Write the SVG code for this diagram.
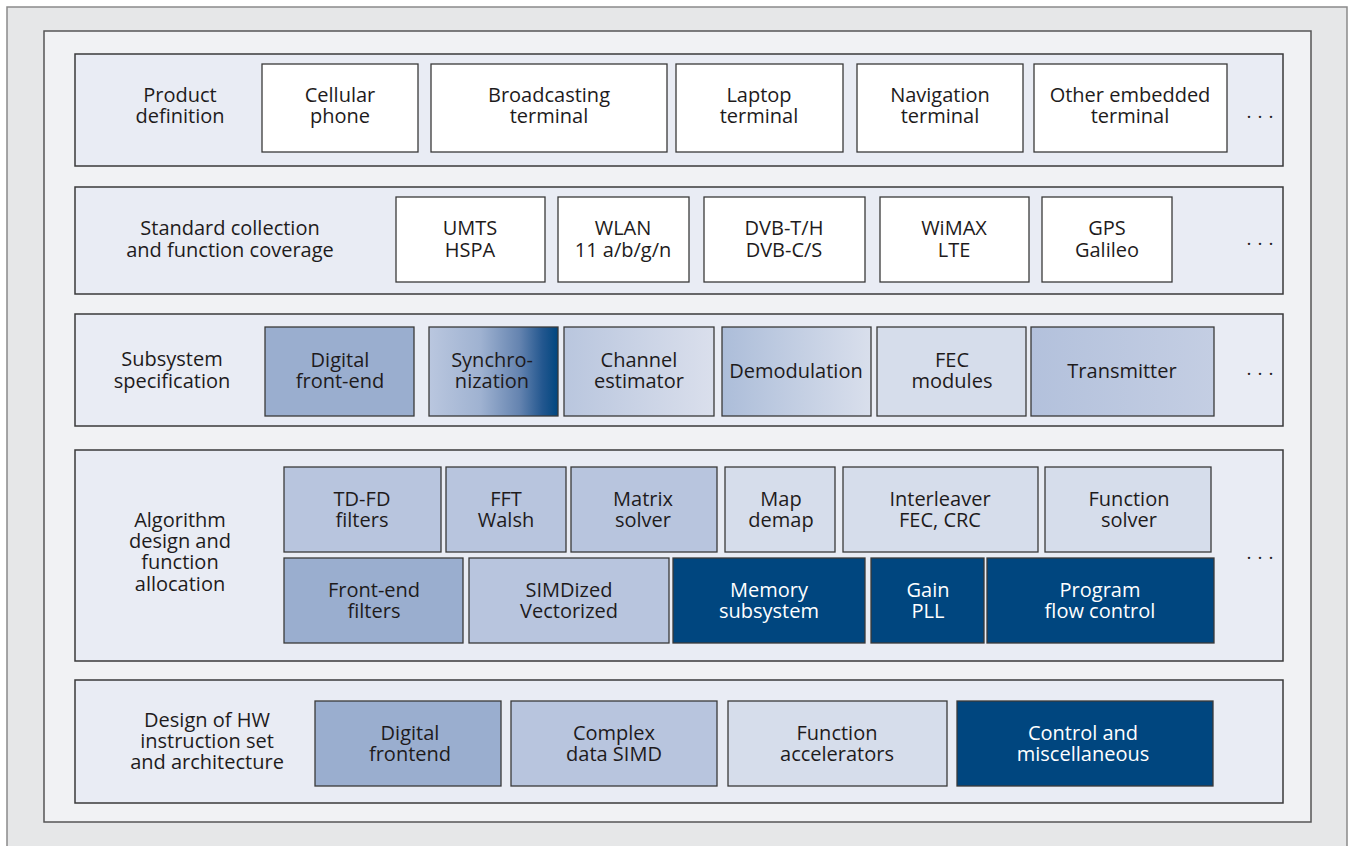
<svg xmlns="http://www.w3.org/2000/svg" width="1351" height="846" viewBox="0 0 1351 846">
  <defs>
    <linearGradient id="gSync" x1="0" y1="0" x2="1" y2="0">
      <stop offset="0" stop-color="#bac7df"/>
      <stop offset="0.4" stop-color="#9fb2d1"/>
      <stop offset="0.7" stop-color="#6584b0"/>
      <stop offset="0.88" stop-color="#23578f"/>
      <stop offset="1" stop-color="#00467f"/>
    </linearGradient>
    <linearGradient id="gChan" x1="0" y1="0" x2="1" y2="0">
      <stop offset="0" stop-color="#b9c6de"/>
      <stop offset="1" stop-color="#dadfec"/>
    </linearGradient>
    <linearGradient id="gDemod" x1="0" y1="0" x2="1" y2="0">
      <stop offset="0" stop-color="#acbdd9"/>
      <stop offset="1" stop-color="#d9dfec"/>
    </linearGradient>
    <linearGradient id="gTx" x1="0" y1="0" x2="1" y2="0">
      <stop offset="0" stop-color="#b3c1dc"/>
      <stop offset="1" stop-color="#c4cee3"/>
    </linearGradient>
  </defs>
  <style>
    .outer { fill: #e6e7e8; stroke: #8a8a8a; stroke-width: 1.5; }
    .frame { fill: #f1f2f4; stroke: #555; stroke-width: 1.5; }
    .panel { fill: #e9ecf4; stroke: #3a3a3a; stroke-width: 1.5; }
    .box { stroke: #3a3a3a; stroke-width: 1.3; }
    .white { fill: #ffffff; }
    .mid { fill: #9aaecf; }
    .light { fill: #b8c5de; }
    .pale { fill: #d6ddeb; }
    .dark { fill: #00467f; }
    text { font-family: "Open Sans", "Noto Sans", "DejaVu Sans", sans-serif; font-size: 20px; fill: #1e1b1c; text-anchor: middle; }
    text.inv { fill: #ffffff; }
    text.dots { font-size: 19px; letter-spacing: 6px; }
  </style>

  <!-- background frames -->
  <rect class="outer" x="7" y="7" width="1340" height="850"/>
  <rect class="frame" x="44" y="31" width="1267" height="791"/>

  <!-- row 1: product definition -->
  <g id="row-product">
    <rect class="panel" x="75" y="54" width="1208" height="112"/>
    <text x="180" y="102">Product</text>
    <text x="180" y="123">definition</text>
    <text class="dots" x="1263" y="118">...</text>
  </g>
  <g id="cellular-phone">
    <rect class="box white" x="262" y="64" width="156" height="88"/>
    <text x="340" y="102">Cellular</text>
    <text x="340" y="123">phone</text>
  </g>
  <g id="broadcasting-terminal">
    <rect class="box white" x="431" y="64" width="236" height="88"/>
    <text x="549" y="102">Broadcasting</text>
    <text x="549" y="123">terminal</text>
  </g>
  <g id="laptop-terminal">
    <rect class="box white" x="676" y="64" width="167" height="88"/>
    <text x="759" y="102">Laptop</text>
    <text x="759" y="123">terminal</text>
  </g>
  <g id="navigation-terminal">
    <rect class="box white" x="857" y="64" width="166" height="88"/>
    <text x="940" y="102">Navigation</text>
    <text x="940" y="123">terminal</text>
  </g>
  <g id="other-embedded-terminal">
    <rect class="box white" x="1034" y="64" width="193" height="88"/>
    <text x="1130" y="102">Other embedded</text>
    <text x="1130" y="123">terminal</text>
  </g>

  <!-- row 2: standards -->
  <g id="row-standards">
    <rect class="panel" x="75" y="187" width="1208" height="107"/>
    <text x="230" y="235">Standard collection</text>
    <text x="230" y="257">and function coverage</text>
    <text class="dots" x="1263" y="245">...</text>
  </g>
  <g id="umts-hspa">
    <rect class="box white" x="396" y="197" width="149" height="85"/>
    <text x="470" y="235">UMTS</text>
    <text x="470" y="257">HSPA</text>
  </g>
  <g id="wlan">
    <rect class="box white" x="558" y="197" width="131" height="85"/>
    <text x="623" y="235">WLAN</text>
    <text x="623" y="257">11 a/b/g/n</text>
  </g>
  <g id="dvb">
    <rect class="box white" x="704" y="197" width="161" height="85"/>
    <text x="784" y="235">DVB-T/H</text>
    <text x="784" y="257">DVB-C/S</text>
  </g>
  <g id="wimax-lte">
    <rect class="box white" x="880" y="197" width="149" height="85"/>
    <text x="954" y="235">WiMAX</text>
    <text x="954" y="257">LTE</text>
  </g>
  <g id="gps-galileo">
    <rect class="box white" x="1042" y="197" width="130" height="85"/>
    <text x="1107" y="235">GPS</text>
    <text x="1107" y="257">Galileo</text>
  </g>

  <!-- row 3: subsystems -->
  <g id="row-subsystems">
    <rect class="panel" x="75" y="314" width="1208" height="112"/>
    <text x="172" y="366">Subsystem</text>
    <text x="172" y="388">specification</text>
    <text class="dots" x="1263" y="375">...</text>
  </g>
  <g id="digital-front-end">
    <rect class="box mid" x="265" y="327" width="149" height="89"/>
    <text x="340" y="367">Digital</text>
    <text x="340" y="388">front-end</text>
  </g>
  <g id="synchronization">
    <rect class="box" fill="url(#gSync)" x="429" y="327" width="129" height="89"/>
    <text x="492" y="367">Synchro-</text>
    <text x="492" y="388">nization</text>
  </g>
  <g id="channel-estimator">
    <rect class="box" fill="url(#gChan)" x="564" y="327" width="150" height="89"/>
    <text x="639" y="367">Channel</text>
    <text x="639" y="388">estimator</text>
  </g>
  <g id="demodulation">
    <rect class="box" fill="url(#gDemod)" x="722" y="327" width="149" height="89"/>
    <text x="796" y="378">Demodulation</text>
  </g>
  <g id="fec-modules">
    <rect class="box pale" x="877" y="327" width="149" height="89"/>
    <text x="952" y="367">FEC</text>
    <text x="952" y="388">modules</text>
  </g>
  <g id="transmitter">
    <rect class="box" fill="url(#gTx)" x="1031" y="327" width="183" height="89"/>
    <text x="1122" y="378">Transmitter</text>
  </g>

  <!-- row 4: algorithms -->
  <g id="row-algorithms">
    <rect class="panel" x="75" y="450" width="1208" height="211"/>
    <text x="180" y="527">Algorithm</text>
    <text x="180" y="548">design and</text>
    <text x="180" y="569">function</text>
    <text x="180" y="591">allocation</text>
    <text class="dots" x="1263" y="559">...</text>
  </g>
  <g id="td-fd-filters">
    <rect class="box light" x="284" y="467" width="157" height="85"/>
    <text x="362" y="506">TD-FD</text>
    <text x="362" y="527">filters</text>
  </g>
  <g id="fft-walsh">
    <rect class="box light" x="446" y="467" width="120" height="85"/>
    <text x="506" y="506">FFT</text>
    <text x="506" y="527">Walsh</text>
  </g>
  <g id="matrix-solver">
    <rect class="box light" x="571" y="467" width="146" height="85"/>
    <text x="643" y="506">Matrix</text>
    <text x="643" y="527">solver</text>
  </g>
  <g id="map-demap">
    <rect class="box pale" x="725" y="467" width="110" height="85"/>
    <text x="781" y="506">Map</text>
    <text x="781" y="527">demap</text>
  </g>
  <g id="interleaver">
    <rect class="box pale" x="843" y="467" width="195" height="85"/>
    <text x="940" y="506">Interleaver</text>
    <text x="940" y="527">FEC, CRC</text>
  </g>
  <g id="function-solver">
    <rect class="box pale" x="1045" y="467" width="166" height="85"/>
    <text x="1129" y="506">Function</text>
    <text x="1129" y="527">solver</text>
  </g>
  <g id="front-end-filters">
    <rect class="box mid" x="284" y="558" width="179" height="85"/>
    <text x="374" y="597">Front-end</text>
    <text x="374" y="618">filters</text>
  </g>
  <g id="simdized">
    <rect class="box light" x="469" y="558" width="200" height="85"/>
    <text x="569" y="597">SIMDized</text>
    <text x="569" y="618">Vectorized</text>
  </g>
  <g id="memory-subsystem">
    <rect class="box dark" x="673" y="558" width="192" height="85"/>
    <text class="inv" x="769" y="597">Memory</text>
    <text class="inv" x="769" y="618">subsystem</text>
  </g>
  <g id="gain-pll">
    <rect class="box dark" x="871" y="558" width="113" height="85"/>
    <text class="inv" x="928" y="597">Gain</text>
    <text class="inv" x="928" y="618">PLL</text>
  </g>
  <g id="program-flow-control">
    <rect class="box dark" x="987" y="558" width="227" height="85"/>
    <text class="inv" x="1100" y="597">Program</text>
    <text class="inv" x="1100" y="618">flow control</text>
  </g>

  <!-- row 5: hardware -->
  <g id="row-hardware">
    <rect class="panel" x="75" y="680" width="1208" height="123"/>
    <text x="207" y="727">Design of HW</text>
    <text x="207" y="748">instruction set</text>
    <text x="207" y="769">and architecture</text>
  </g>
  <g id="hw-digital-frontend">
    <rect class="box mid" x="315" y="701" width="186" height="85"/>
    <text x="410" y="740">Digital</text>
    <text x="410" y="761">frontend</text>
  </g>
  <g id="complex-data-simd">
    <rect class="box light" x="511" y="701" width="206" height="85"/>
    <text x="614" y="740">Complex</text>
    <text x="614" y="761">data SIMD</text>
  </g>
  <g id="function-accelerators">
    <rect class="box pale" x="728" y="701" width="219" height="85"/>
    <text x="837" y="740">Function</text>
    <text x="837" y="761">accelerators</text>
  </g>
  <g id="control-misc">
    <rect class="box dark" x="957" y="701" width="256" height="85"/>
    <text class="inv" x="1083" y="740">Control and</text>
    <text class="inv" x="1083" y="761">miscellaneous</text>
  </g>

  <!-- no connectors in this layered chart -->
  <g id="connectors"/>
</svg>
